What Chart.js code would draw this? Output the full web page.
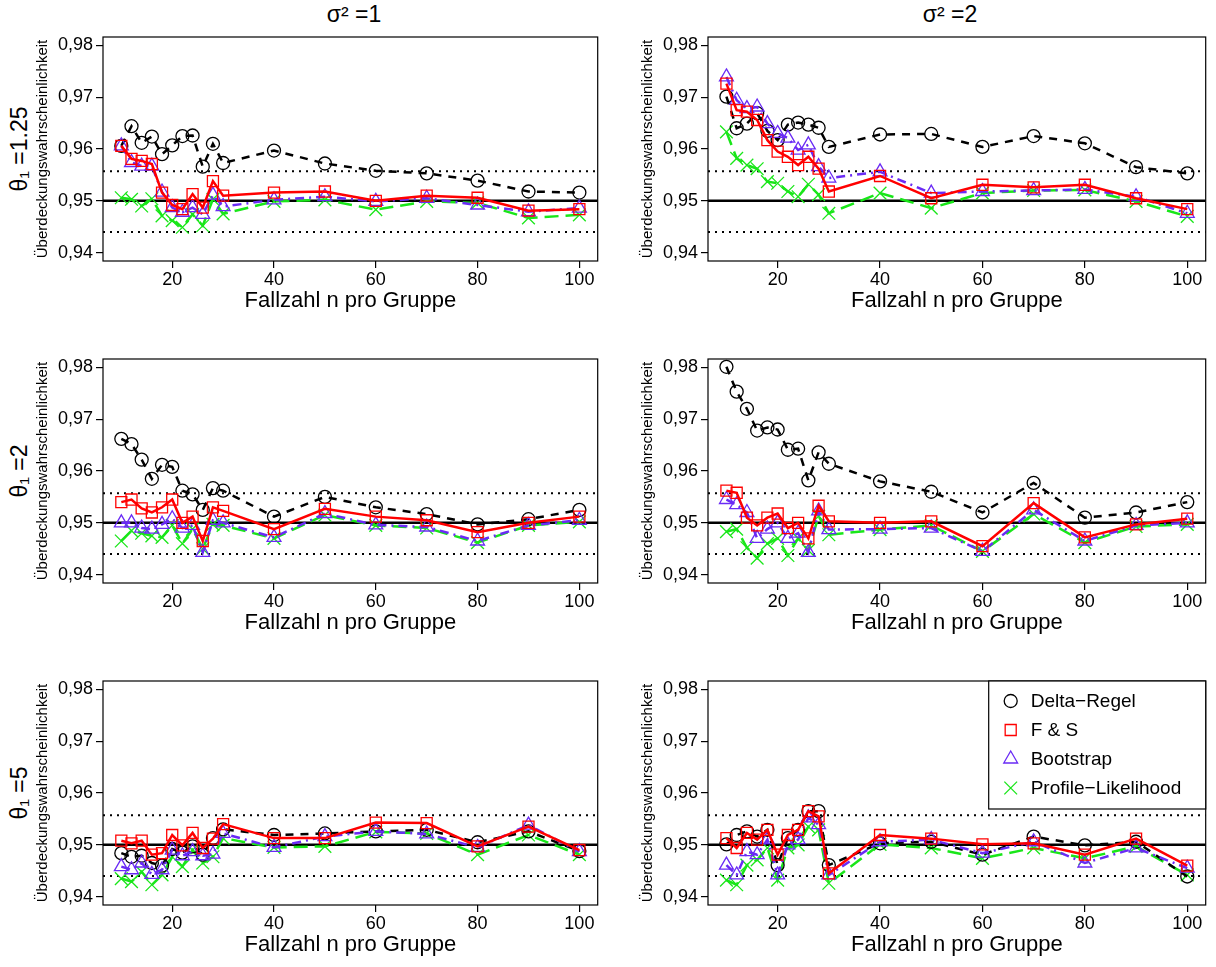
<!DOCTYPE html>
<html lang="de">
<head>
<meta charset="utf-8">
<script src="https://cdn.jsdelivr.net/npm/chart.js@4.4.1/dist/chart.umd.min.js"></script>
<style>
    html, body { margin: 0; padding: 0; background: #fff; }
    #figur { position: relative; width: 1216px; height: 967px; font-family: 'Liberation Sans', Arial, sans-serif; color: #000; }
    .panel { position: absolute; width: 608px; height: 322px; }
    .spalte { position: absolute; top: 1px; width: 300px; text-align: center; font-size: 23px; }
    .zeile { position: absolute; width: 240px; height: 30px; line-height: 30px; text-align: center; font-size: 23px; transform: rotate(-90deg); }
</style>
</head>
<body>
<div id="figur">
    <div class="spalte" style="left:204px">σ² =1</div>
    <div class="spalte" style="left:800px">σ² =2</div>
    <div class="zeile" style="left:-101px; top:134px">θ₁ =1.25</div>
    <div class="zeile" style="left:-101px; top:456px">θ₁ =2</div>
    <div class="zeile" style="left:-101px; top:778px">θ₁ =5</div>
    <canvas class="panel" id="p11" width="608" height="322" style="left:0; top:0"></canvas>
    <canvas class="panel" id="p12" width="608" height="322" style="left:608px; top:0"></canvas>
    <canvas class="panel" id="p21" width="608" height="322" style="left:0; top:322px"></canvas>
    <canvas class="panel" id="p22" width="608" height="322" style="left:608px; top:322px"></canvas>
    <canvas class="panel" id="p31" width="608" height="322" style="left:0; top:644px"></canvas>
    <canvas class="panel" id="p32" width="608" height="322" style="left:608px; top:644px"></canvas>
</div>
<script>
// Fallzahlen und Achsen
const fallzahl = [10, 12, 14, 16, 18, 20, 22, 24, 26, 28, 30, 40, 50, 60, 70, 80, 90, 100];
const xTicks = [20, 40, 60, 80, 100];
const yTicks = [0.94, 0.95, 0.96, 0.97, 0.98];
const nominal = 0.95;
const grenzen = [0.9440, 0.9557];

// theta1 = 1.25, sigma^2 = 1
const delta_t125_s1 = [0.9606, 0.9644, 0.9612, 0.9624, 0.9590, 0.9607, 0.9625, 0.9626, 0.9566, 0.9610, 0.9573, 0.9597, 0.9572, 0.9558, 0.9553, 0.9539, 0.9518, 0.9516];
const fs_t125_s1    = [0.9606, 0.9581, 0.9577, 0.9571, 0.9516, 0.9492, 0.9484, 0.9513, 0.9487, 0.9538, 0.9510, 0.9516, 0.9518, 0.9500, 0.9510, 0.9506, 0.9481, 0.9484];
const boot_t125_s1  = [0.9606, 0.9574, 0.9567, 0.9567, 0.9517, 0.9487, 0.9478, 0.9487, 0.9474, 0.9511, 0.9489, 0.9502, 0.9508, 0.9499, 0.9505, 0.9492, 0.9479, 0.9486];
const prof_t125_s1  = [0.9506, 0.9503, 0.9490, 0.9504, 0.9471, 0.9462, 0.9449, 0.9474, 0.9452, 0.9503, 0.9475, 0.9499, 0.9502, 0.9483, 0.9499, 0.9496, 0.9467, 0.9473];

// theta1 = 1.25, sigma^2 = 2
const delta_t125_s2 = [0.9701, 0.9640, 0.9649, 0.9669, 0.9635, 0.9617, 0.9647, 0.9651, 0.9647, 0.9641, 0.9604, 0.9628, 0.9629, 0.9604, 0.9625, 0.9611, 0.9565, 0.9553];
const fs_t125_s2    = [0.9726, 0.9675, 0.9672, 0.9656, 0.9617, 0.9595, 0.9585, 0.9569, 0.9585, 0.9562, 0.9518, 0.9548, 0.9505, 0.9531, 0.9526, 0.9531, 0.9505, 0.9484];
const boot_t125_s2  = [0.9739, 0.9694, 0.9678, 0.9681, 0.9649, 0.9630, 0.9621, 0.9598, 0.9608, 0.9566, 0.9544, 0.9556, 0.9515, 0.9518, 0.9520, 0.9522, 0.9508, 0.9476];
const prof_t125_s2  = [0.9633, 0.9582, 0.9569, 0.9562, 0.9537, 0.9534, 0.9518, 0.9508, 0.9532, 0.9512, 0.9476, 0.9515, 0.9486, 0.9515, 0.9520, 0.9521, 0.9499, 0.9470];

// theta1 = 2, sigma^2 = 1
const delta_t2_s1 = [0.9662, 0.9652, 0.9622, 0.9585, 0.9612, 0.9608, 0.9562, 0.9555, 0.9525, 0.9567, 0.9562, 0.9512, 0.9550, 0.9530, 0.9517, 0.9497, 0.9507, 0.9525];
const fs_t2_s1    = [0.9540, 0.9545, 0.9528, 0.9520, 0.9530, 0.9545, 0.9500, 0.9512, 0.9465, 0.9530, 0.9523, 0.9488, 0.9527, 0.9512, 0.9505, 0.9482, 0.9500, 0.9512];
const boot_t2_s1  = [0.9500, 0.9500, 0.9490, 0.9488, 0.9497, 0.9508, 0.9490, 0.9495, 0.9443, 0.9505, 0.9500, 0.9472, 0.9518, 0.9496, 0.9492, 0.9465, 0.9495, 0.9505];
const prof_t2_s1  = [0.9465, 0.9485, 0.9480, 0.9475, 0.9472, 0.9495, 0.9460, 0.9488, 0.9450, 0.9497, 0.9495, 0.9470, 0.9515, 0.9495, 0.9490, 0.9462, 0.9495, 0.9502];

// theta1 = 2, sigma^2 = 2
const delta_t2_s2 = [0.9801, 0.9753, 0.9720, 0.9678, 0.9684, 0.9680, 0.9641, 0.9643, 0.9582, 0.9636, 0.9614, 0.9580, 0.9560, 0.9520, 0.9577, 0.9510, 0.9520, 0.9540];
const fs_t2_s2    = [0.9562, 0.9558, 0.9510, 0.9495, 0.9510, 0.9518, 0.9490, 0.9500, 0.9470, 0.9533, 0.9503, 0.9500, 0.9503, 0.9455, 0.9538, 0.9472, 0.9497, 0.9508];
const boot_t2_s2  = [0.9545, 0.9535, 0.9520, 0.9470, 0.9488, 0.9500, 0.9470, 0.9480, 0.9443, 0.9523, 0.9487, 0.9488, 0.9490, 0.9445, 0.9525, 0.9465, 0.9495, 0.9500];
const prof_t2_s2  = [0.9483, 0.9488, 0.9452, 0.9432, 0.9460, 0.9470, 0.9437, 0.9470, 0.9447, 0.9513, 0.9477, 0.9487, 0.9495, 0.9445, 0.9517, 0.9462, 0.9493, 0.9497];

// theta1 = 5, sigma^2 = 1
const delta_t5_s1 = [0.9484, 0.9477, 0.9479, 0.9465, 0.9460, 0.9492, 0.9485, 0.9497, 0.9481, 0.9513, 0.9530, 0.9519, 0.9522, 0.9526, 0.9529, 0.9505, 0.9526, 0.9488];
const fs_t5_s1    = [0.9508, 0.9503, 0.9508, 0.9481, 0.9484, 0.9519, 0.9499, 0.9523, 0.9494, 0.9512, 0.9540, 0.9513, 0.9513, 0.9543, 0.9542, 0.9497, 0.9535, 0.9490];
const boot_t5_s1  = [0.9458, 0.9452, 0.9465, 0.9443, 0.9452, 0.9490, 0.9479, 0.9487, 0.9479, 0.9482, 0.9522, 0.9495, 0.9516, 0.9526, 0.9521, 0.9495, 0.9538, 0.9487];
const prof_t5_s1  = [0.9435, 0.9429, 0.9448, 0.9423, 0.9442, 0.9477, 0.9458, 0.9490, 0.9465, 0.9477, 0.9513, 0.9495, 0.9497, 0.9525, 0.9522, 0.9481, 0.9519, 0.9481];

// theta1 = 5, sigma^2 = 2
const delta_t5_s2 = [0.9501, 0.9519, 0.9526, 0.9516, 0.9529, 0.9461, 0.9513, 0.9529, 0.9565, 0.9565, 0.9461, 0.9503, 0.9506, 0.9481, 0.9516, 0.9499, 0.9506, 0.9439];
const fs_t5_s2    = [0.9513, 0.9494, 0.9523, 0.9510, 0.9529, 0.9481, 0.9519, 0.9529, 0.9565, 0.9555, 0.9445, 0.9519, 0.9512, 0.9501, 0.9503, 0.9481, 0.9512, 0.9460];
const boot_t5_s2  = [0.9461, 0.9442, 0.9487, 0.9481, 0.9510, 0.9442, 0.9500, 0.9510, 0.9552, 0.9539, 0.9442, 0.9506, 0.9510, 0.9484, 0.9506, 0.9465, 0.9494, 0.9455];
const prof_t5_s2  = [0.9432, 0.9423, 0.9461, 0.9471, 0.9494, 0.9432, 0.9494, 0.9500, 0.9535, 0.9529, 0.9426, 0.9501, 0.9494, 0.9474, 0.9494, 0.9474, 0.9497, 0.9442];

const SCHRIFT = "'Liberation Sans', Arial, sans-serif";
const X_MIN = 6.4, X_MAX = 103.6;
const Y_MIN = 0.9384, Y_MAX = 0.9816;

function punkte(werte) {
    return werte.map((y, i) => ({ x: fallzahl[i], y: y }));
}

function linie(y, farbe, breite, strich) {
    return {
        data: [{ x: X_MIN, y: y }, { x: X_MAX, y: y }],
        borderColor: farbe,
        borderWidth: breite,
        borderDash: strich,
        pointRadius: 0,
        order: 10,
        imLegende: false
    };
}

// Rahmen um den Plotbereich
const rahmen = {
    id: 'rahmen',
    afterDraw(chart) {
        const { ctx, chartArea: a } = chart;
        ctx.save();
        ctx.strokeStyle = '#000';
        ctx.lineWidth = 1.2;
        ctx.strokeRect(a.left, a.top, a.right - a.left, a.bottom - a.top);
        ctx.restore();
    }
};

// Legende oben rechts im Plotbereich
const legende = {
    id: 'legende',
    afterDraw(chart, args, opts) {
        if (!opts.zeigen) return;
        const { ctx, chartArea: a } = chart;
        const eintraege = chart.data.datasets.filter(d => d.imLegende);
        const breite = 217, hoehe = 128;
        const links = a.right - breite, oben = a.top;
        ctx.save();
        ctx.fillStyle = '#fff';
        ctx.fillRect(links, oben, breite, hoehe);
        ctx.strokeStyle = '#000';
        ctx.lineWidth = 1.2;
        ctx.strokeRect(links, oben, breite, hoehe);
        ctx.font = '19px ' + SCHRIFT;
        ctx.textBaseline = 'middle';
        eintraege.forEach((d, i) => {
            const y = oben + 20 + i * 29;
            ctx.strokeStyle = d.borderColor;
            ctx.fillStyle = 'rgba(0,0,0,0)';
            ctx.lineWidth = d.pointBorderWidth;
            Chart.helpers.drawPoint(ctx, { pointStyle: d.pointStyle, radius: d.pointRadius, rotation: 0, borderWidth: d.pointBorderWidth }, links + 22, y);
            ctx.fillStyle = '#000';
            ctx.fillText(d.label, links + 42, y + 1);
        });
        ctx.restore();
    }
};

function zeichnePanel(id, delta, fs, boot, prof, spalte, mitLegende) {
    const links = spalte === 1 ? 103 : 100;
    const rechts = spalte === 1 ? 3 : 9;
    const ctx = document.getElementById(id).getContext('2d');
    return new Chart(ctx, {
        type: 'line',
        data: {
            datasets: [
                {
                    label: 'Delta−Regel', data: punkte(delta),
                    borderColor: '#000000', borderWidth: 2.5, borderDash: [8, 7],
                    pointStyle: 'circle', pointRadius: 6.5, pointBorderWidth: 1.3,
                    pointBackgroundColor: 'rgba(0,0,0,0)', order: 3, imLegende: true
                },
                {
                    label: 'F & S', data: punkte(fs),
                    borderColor: '#ff0000', borderWidth: 2.5,
                    pointStyle: 'rect', pointRadius: 7.8, pointBorderWidth: 1.3,
                    pointBackgroundColor: 'rgba(0,0,0,0)', order: 1, imLegende: true
                },
                {
                    label: 'Bootstrap', data: punkte(boot),
                    borderColor: '#6a2bf5', borderWidth: 2.5, borderDash: [9, 5, 2, 5],
                    pointStyle: 'triangle', pointRadius: 8, pointBorderWidth: 1.3,
                    pointBackgroundColor: 'rgba(0,0,0,0)', order: 2, imLegende: true
                },
                {
                    label: 'Profile−Likelihood', data: punkte(prof),
                    borderColor: '#19e619', borderWidth: 2.5, borderDash: [14, 7],
                    pointStyle: 'crossRot', pointRadius: 9, pointBorderWidth: 1.3,
                    pointBackgroundColor: 'rgba(0,0,0,0)', order: 4, imLegende: true
                },
                linie(nominal, '#000000', 2.5, []),
                linie(grenzen[0], '#000000', 2, [2, 5]),
                linie(grenzen[1], '#000000', 2, [2, 5])
            ]
        },
        options: {
            responsive: false,
            animation: false,
            devicePixelRatio: 1,
            events: [],
            layout: { padding: { top: 37, right: rechts, left: 0, bottom: 0 } },
            elements: { line: { tension: 0, borderCapStyle: 'butt' } },
            plugins: {
                legend: { display: false },
                tooltip: { enabled: false },
                legende: { zeigen: mitLegende }
            },
            scales: {
                x: {
                    type: 'linear', min: X_MIN, max: X_MAX,
                    afterBuildTicks: s => { s.ticks = xTicks.map(v => ({ value: v })); },
                    afterFit: s => { s.height = 61; },
                    grid: { display: true, drawOnChartArea: false, drawTicks: true, tickLength: 7, color: '#000', lineWidth: 1.2 },
                    border: { display: false },
                    ticks: { color: '#000', font: { family: SCHRIFT, size: 18 }, padding: 1, maxRotation: 0 },
                    title: {
                        display: true, text: 'Fallzahl n pro Gruppe', color: '#000',
                        font: { family: SCHRIFT, size: 22 }, padding: { top: 0, bottom: 8 }
                    }
                },
                y: {
                    type: 'linear', min: Y_MIN, max: Y_MAX,
                    afterBuildTicks: s => { s.ticks = yTicks.map(v => ({ value: v })); },
                    afterFit: s => { s.width = links; },
                    grid: { display: true, drawOnChartArea: false, drawTicks: true, tickLength: 7, color: '#000', lineWidth: 1.2 },
                    border: { display: false },
                    ticks: {
                        color: '#000', font: { family: SCHRIFT, size: 18 }, padding: 3,
                        callback: v => v.toFixed(2).replace('.', ',')
                    },
                    title: {
                        display: true, text: 'Überdeckungswahrscheinlichkeit', color: '#000',
                        font: { family: SCHRIFT, size: 15 },
                        padding: { top: spalte === 1 ? 34 : 31, bottom: 0 }
                    }
                }
            }
        },
        plugins: [rahmen, legende]
    });
}

zeichnePanel('p11', delta_t125_s1, fs_t125_s1, boot_t125_s1, prof_t125_s1, 1, false);
zeichnePanel('p12', delta_t125_s2, fs_t125_s2, boot_t125_s2, prof_t125_s2, 2, false);
zeichnePanel('p21', delta_t2_s1, fs_t2_s1, boot_t2_s1, prof_t2_s1, 1, false);
zeichnePanel('p22', delta_t2_s2, fs_t2_s2, boot_t2_s2, prof_t2_s2, 2, false);
zeichnePanel('p31', delta_t5_s1, fs_t5_s1, boot_t5_s1, prof_t5_s1, 1, false);
zeichnePanel('p32', delta_t5_s2, fs_t5_s2, boot_t5_s2, prof_t5_s2, 2, true);
</script>
</body>
</html>
